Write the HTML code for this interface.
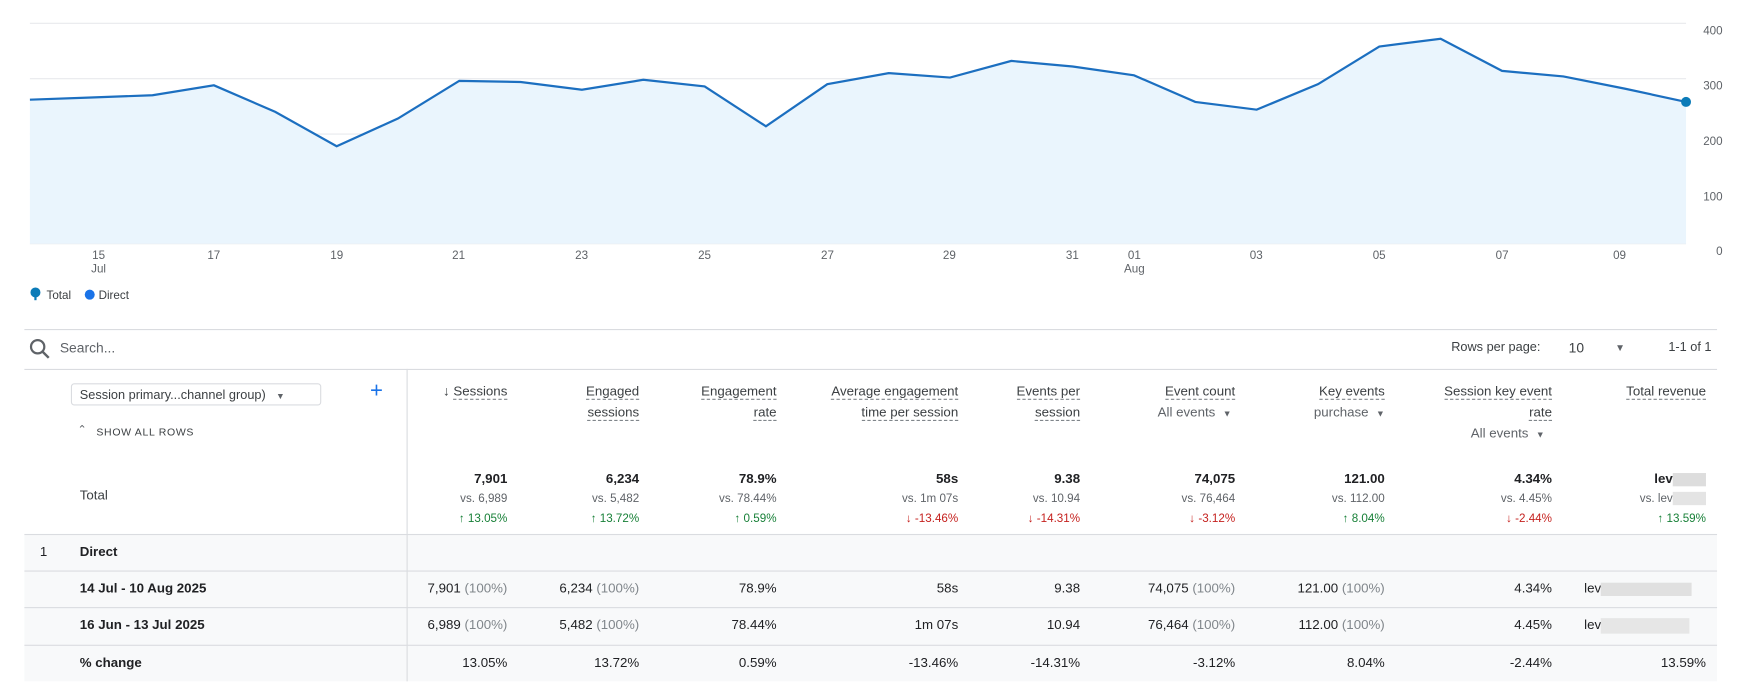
<!DOCTYPE html>
<html><head><meta charset="utf-8"><style>
html,body{margin:0;padding:0;background:#fff;overflow:hidden}
#w{position:absolute;left:0;top:0;width:1568px;height:627px;transform:scale(1.10778);transform-origin:0 0;font-family:"Liberation Sans",Arial,sans-serif;color:#202124}
.a{position:absolute;white-space:nowrap}
.r{text-align:right}
.t{font-size:11.5px;color:#5f6368}
.h{font-size:12px;color:#3c4043;line-height:19px}
.h span{border-bottom:1px dashed #80868b}
.num{font-size:12px;color:#202124}
.g{color:#188038;font-size:10.5px}
.rd{color:#c5221f;font-size:10.5px}
.vs{color:#5f6368;font-size:10.5px}
.line{position:absolute;background:#dadce0}
.gr{color:#80868b}
</style></head><body><div id="w">
<svg class="a" style="left:0;top:0" width="1568" height="290">
<g stroke="#e8eaed" stroke-width="1">
<line x1="27" y1="21" x2="1522" y2="21"/><line x1="27" y1="71" x2="1522" y2="71"/><line x1="27" y1="121" x2="1522" y2="121"/><line x1="27" y1="171" x2="1522" y2="171"/><line x1="27" y1="220" x2="1522" y2="220"/>
</g>
<polygon fill="#eaf5fd" points="27,220 27,90 82.4,88 137.7,86 193.1,77 248.5,101 303.9,132 359.2,107 414.6,73 470,74 525.3,81 580.7,72 636.1,78 691.4,114 746.8,76 802.2,66 857.6,70 912.9,55 968.3,60 1023.7,68 1079,92 1134.4,99 1189.8,76 1245.1,42 1300.5,35 1355.9,64 1411.3,69 1466.6,80 1522,92 1522,220"/>
<polyline fill="none" stroke="#1c6fc0" stroke-width="2" points="27,90 82.4,88 137.7,86 193.1,77 248.5,101 303.9,132 359.2,107 414.6,73 470,74 525.3,81 580.7,72 636.1,78 691.4,114 746.8,76 802.2,66 857.6,70 912.9,55 968.3,60 1023.7,68 1079,92 1134.4,99 1189.8,76 1245.1,42 1300.5,35 1355.9,64 1411.3,69 1466.6,80 1522,92"/>
<circle cx="1522" cy="92" r="4.5" fill="#0b7bb8"/>
<g font-size="10.5" fill="#5f6368" font-family="Liberation Sans,Arial,sans-serif" text-anchor="end">
<text x="1555" y="31">400</text><text x="1555" y="81">300</text><text x="1555" y="131">200</text><text x="1555" y="181">100</text><text x="1555" y="230">0</text>
</g>
<g font-size="10.5" fill="#5f6368" font-family="Liberation Sans,Arial,sans-serif" text-anchor="middle">
<text x="89" y="234">15</text><text x="89" y="246">Jul</text><text x="193" y="234">17</text><text x="304" y="234">19</text><text x="414" y="234">21</text><text x="525" y="234">23</text><text x="636" y="234">25</text><text x="747" y="234">27</text><text x="857" y="234">29</text><text x="968" y="234">31</text><text x="1024" y="234">01</text><text x="1024" y="246">Aug</text><text x="1134" y="234">03</text><text x="1245" y="234">05</text><text x="1356" y="234">07</text><text x="1462" y="234">09</text>
</g>
<circle cx="32" cy="264" r="4.5" fill="#0b7bb8"/><rect x="31" y="265" width="2" height="6" fill="#0b7bb8"/>
<text x="42" y="270" font-size="10.5" fill="#3c4043" font-family="Liberation Sans,Arial,sans-serif">Total</text>
<circle cx="81" cy="266" r="4.5" fill="#1a73e8"/>
<text x="89" y="270" font-size="10.5" fill="#3c4043" font-family="Liberation Sans,Arial,sans-serif">Direct</text>
</svg>

<div class="line" style="left:22px;top:297px;width:1528px;height:1px"></div>
<svg class="a" style="left:26px;top:305px" width="20" height="20"><circle cx="8" cy="8" r="6" fill="none" stroke="#5f6368" stroke-width="2"/><line x1="12.5" y1="12.5" x2="18" y2="18" stroke="#5f6368" stroke-width="2.2"/></svg>
<div class="a" style="left:54px;top:307px;font-size:12.5px;color:#5f6368">Search...</div>
<div class="a t" style="left:1310px;top:308px;color:#3c4043">Rows per page:</div>
<div class="a" style="left:1416px;top:307px;font-size:12.5px;color:#3c4043">10</div>
<div class="a" style="left:1458px;top:309px;font-size:9px;color:#5f6368">▼</div>
<div class="a t" style="left:1506px;top:308px;color:#3c4043">1-1 of 1</div>
<div class="line" style="left:22px;top:333px;width:1528px;height:1px"></div>
<div class="line" style="left:367px;top:333px;width:1px;height:282px"></div>

<div class="a" style="left:64px;top:346px;width:226px;height:20px;border:1px solid #dadce0;border-radius:3px;font-size:11.5px;color:#3c4043;line-height:20px;padding-left:7px;box-sizing:border-box">Session primary...channel group) <span style="font-size:8px;color:#5f6368;margin-left:6px">▼</span></div>
<div class="a" style="left:334px;top:342px;font-size:20px;color:#1a73e8">+</div>
<div class="a" style="left:70px;top:383px;font-size:10px;color:#5f6368">⌃</div>
<div class="a" style="left:87px;top:385px;font-size:9.5px;color:#3c4043;letter-spacing:.6px">SHOW ALL ROWS</div>
<div class="a" style="left:72px;top:440px;font-size:12px;color:#3c4043">Total</div>

<div class="a h r" style="left:378px;top:344px;width:80px">↓ <span>Sessions</span></div>
<div class="a h r" style="left:477px;top:344px;width:100px"><span>Engaged</span><br><span>sessions</span></div>
<div class="a h r" style="left:601px;top:344px;width:100px"><span>Engagement</span><br><span>rate</span></div>
<div class="a h r" style="left:715px;top:344px;width:150px"><span>Average engagement</span><br><span>time per session</span></div>
<div class="a h r" style="left:875px;top:344px;width:100px"><span>Events per</span><br><span>session</span></div>
<div class="a h r" style="left:1000px;top:344px;width:115px"><span>Event count</span><br><span style="border:none;color:#5f6368">All events &nbsp;<span style="border:none;font-size:8px">▼</span>&nbsp;</span></div>
<div class="a h r" style="left:1140px;top:344px;width:110px"><span>Key events</span><br><span style="border:none;color:#5f6368">purchase &nbsp;<span style="border:none;font-size:8px">▼</span></span></div>
<div class="a h r" style="left:1270px;top:344px;width:131px"><span>Session key event</span><br><span>rate</span><br><span style="border:none;color:#5f6368">All events &nbsp;<span style="border:none;font-size:8px">▼</span>&nbsp;&nbsp;</span></div>
<div class="a h r" style="left:1430px;top:344px;width:110px"><span>Total revenue</span></div>

<div class="a r" style="left:378px;top:423px;width:80px;line-height:18px"><div class="num" style="font-weight:bold;font-size:12px">7,901</div><div class="vs">vs. 6,989</div><div class="g">↑ 13.05%</div></div>
<div class="a r" style="left:477px;top:423px;width:100px;line-height:18px"><div class="num" style="font-weight:bold;font-size:12px">6,234</div><div class="vs">vs. 5,482</div><div class="g">↑ 13.72%</div></div>
<div class="a r" style="left:601px;top:423px;width:100px;line-height:18px"><div class="num" style="font-weight:bold;font-size:12px">78.9%</div><div class="vs">vs. 78.44%</div><div class="g">↑ 0.59%</div></div>
<div class="a r" style="left:765px;top:423px;width:100px;line-height:18px"><div class="num" style="font-weight:bold;font-size:12px">58s</div><div class="vs">vs. 1m 07s</div><div class="rd">↓ -13.46%</div></div>
<div class="a r" style="left:875px;top:423px;width:100px;line-height:18px"><div class="num" style="font-weight:bold;font-size:12px">9.38</div><div class="vs">vs. 10.94</div><div class="rd">↓ -14.31%</div></div>
<div class="a r" style="left:1015px;top:423px;width:100px;line-height:18px"><div class="num" style="font-weight:bold;font-size:12px">74,075</div><div class="vs">vs. 76,464</div><div class="rd">↓ -3.12%</div></div>
<div class="a r" style="left:1150px;top:423px;width:100px;line-height:18px"><div class="num" style="font-weight:bold;font-size:12px">121.00</div><div class="vs">vs. 112.00</div><div class="g">↑ 8.04%</div></div>
<div class="a r" style="left:1301px;top:423px;width:100px;line-height:18px"><div class="num" style="font-weight:bold;font-size:12px">4.34%</div><div class="vs">vs. 4.45%</div><div class="rd">↓ -2.44%</div></div>
<div class="a r" style="left:1440px;top:423px;width:100px;line-height:18px"><div class="num" style="font-weight:bold;font-size:12px">lev<span style="display:inline-block;width:30px;height:12px;background:#ddd;vertical-align:middle"></span></div><div class="vs">vs. lev<span style="display:inline-block;width:30px;height:12px;background:#e4e4e4;vertical-align:middle"></span></div><div class="g">↑ 13.59%</div></div>

<div class="a" style="left:22px;top:482px;width:1528px;height:133px;background:#f8f9fa"></div>
<div class="line" style="left:22px;top:482px;width:1528px;height:1px"></div>
<div class="line" style="left:22px;top:515px;width:1528px;height:1px"></div>
<div class="line" style="left:22px;top:548px;width:1528px;height:1px"></div>
<div class="line" style="left:22px;top:582px;width:1528px;height:1px"></div>
<div class="line" style="left:367px;top:482px;width:1px;height:133px"></div>
<div class="a" style="left:36px;top:491px;font-size:12px">1</div>
<div class="a" style="left:72px;top:491px;font-size:12px;font-weight:bold">Direct</div>

<div class="a" style="left:72px;top:524px;font-size:12px;font-weight:bold">14 Jul - 10 Aug 2025</div>
<div class="a" style="left:72px;top:557px;font-size:12px;font-weight:bold">16 Jun - 13 Jul 2025</div>
<div class="a" style="left:72px;top:591px;font-size:12px;font-weight:bold">% change</div>

<div class="a num r" style="left:358px;top:524px;width:100px">7,901 <span class="gr">(100%)</span></div>
<div class="a num r" style="left:457px;top:524px;width:120px">6,234 <span class="gr">(100%)</span></div>
<div class="a num r" style="left:601px;top:524px;width:100px">78.9%</div>
<div class="a num r" style="left:765px;top:524px;width:100px">58s</div>
<div class="a num r" style="left:875px;top:524px;width:100px">9.38</div>
<div class="a num r" style="left:995px;top:524px;width:120px">74,075 <span class="gr">(100%)</span></div>
<div class="a num r" style="left:1130px;top:524px;width:120px">121.00 <span class="gr">(100%)</span></div>
<div class="a num r" style="left:1301px;top:524px;width:100px">4.34%</div>
<div class="a num" style="left:1430px;top:524px">lev<span style="display:inline-block;width:82px;height:12px;background:#e0e0e0;vertical-align:middle"></span></div>

<div class="a num r" style="left:358px;top:557px;width:100px">6,989 <span class="gr">(100%)</span></div>
<div class="a num r" style="left:457px;top:557px;width:120px">5,482 <span class="gr">(100%)</span></div>
<div class="a num r" style="left:601px;top:557px;width:100px">78.44%</div>
<div class="a num r" style="left:765px;top:557px;width:100px">1m 07s</div>
<div class="a num r" style="left:875px;top:557px;width:100px">10.94</div>
<div class="a num r" style="left:995px;top:557px;width:120px">76,464 <span class="gr">(100%)</span></div>
<div class="a num r" style="left:1130px;top:557px;width:120px">112.00 <span class="gr">(100%)</span></div>
<div class="a num r" style="left:1301px;top:557px;width:100px">4.45%</div>
<div class="a num" style="left:1430px;top:557px">lev<span style="display:inline-block;width:80px;height:14px;background:#e6e6e6;vertical-align:middle"></span></div>

<div class="a num r" style="left:358px;top:591px;width:100px">13.05%</div>
<div class="a num r" style="left:477px;top:591px;width:100px">13.72%</div>
<div class="a num r" style="left:601px;top:591px;width:100px">0.59%</div>
<div class="a num r" style="left:765px;top:591px;width:100px">-13.46%</div>
<div class="a num r" style="left:875px;top:591px;width:100px">-14.31%</div>
<div class="a num r" style="left:1015px;top:591px;width:100px">-3.12%</div>
<div class="a num r" style="left:1150px;top:591px;width:100px">8.04%</div>
<div class="a num r" style="left:1301px;top:591px;width:100px">-2.44%</div>
<div class="a num r" style="left:1440px;top:591px;width:100px">13.59%</div>
</div></body></html>
